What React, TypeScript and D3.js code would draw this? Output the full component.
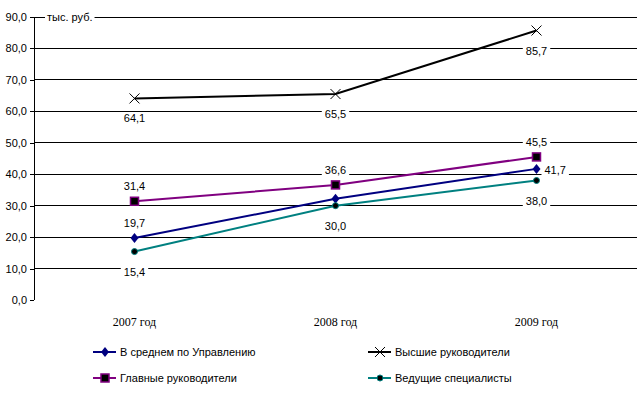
import React, { useEffect, useRef } from "react";
import * as d3 from "d3";

const years = ["2007 год", "2008 год", "2009 год"];
const avgValues = [19.7, 32.2, 41.7];
const topValues = [64.1, 65.5, 85.7];
const chiefValues = [31.4, 36.6, 45.5];
const leadValues = [15.4, 30.0, 38.0];
const yTicks = [0, 10, 20, 30, 40, 50, 60, 70, 80, 90];

const seriesList = [
  { name: "В среднем по Управлению", values: avgValues, color: "#000080", marker: "diamond", labels: [true, false, true], pos: ["above", "", "right"] },
  { name: "Высшие руководители", values: topValues, color: "#000000", marker: "cross", labels: [true, true, true], pos: ["below", "below", "below"] },
  { name: "Главные руководители", values: chiefValues, color: "#800080", marker: "square", labels: [true, true, true], pos: ["above", "above", "above"] },
  { name: "Ведущие специалисты", values: leadValues, color: "#008080", marker: "circle", labels: [true, true, true], pos: ["below", "below", "below"] },
];

const fmt = (v: number) => v.toFixed(1).replace(".", ",");
const FONT = "'Liberation Sans', Arial, sans-serif";
const FS = 11;

export default function App() {
  const ref = useRef<SVGSVGElement>(null);

  useEffect(() => {
    const svg = d3.select(ref.current);
    svg.selectAll("*").remove();

    const left = 34, right = 637, top = 17, bottom = 300;

    const x = d3.scaleBand().domain(years).range([left, right]);
    const y = d3.scaleLinear().domain([0, 90]).range([bottom, top]);
    const cx = (i: number) => (x(years[i]) as number) + x.bandwidth() / 2;

    // gridlines
    svg.append("g")
      .selectAll("line")
      .data(yTicks.slice(1))
      .join("line")
      .attr("x1", left).attr("x2", right)
      .attr("y1", d => y(d)).attr("y2", d => y(d))
      .attr("stroke", "#000").attr("stroke-width", 1)
      .attr("shape-rendering", "crispEdges");

    // y axis
    const yAxis = svg.append("g")
      .attr("transform", `translate(${left},0)`)
      .call(d3.axisLeft(y).tickValues(yTicks).tickFormat(d => fmt(d as number)).tickSize(4).tickPadding(3));
    yAxis.selectAll("line, path").attr("stroke", "#000").attr("shape-rendering", "crispEdges");
    yAxis.select(".domain").attr("d", `M0,${bottom}V${top}`);
    yAxis.selectAll("text").attr("font-family", FONT).attr("font-size", FS).attr("fill", "#000");

    // x axis labels
    svg.append("g")
      .selectAll("text")
      .data(years)
      .join("text")
      .attr("x", d => (x(d) as number) + x.bandwidth() / 2)
      .attr("y", 326)
      .attr("text-anchor", "middle")
      .attr("font-family", "'Liberation Serif', serif")
      .attr("font-size", 12)
      .text(d => d);

    // unit label
    const unitBg = svg.append("rect").attr("fill", "#fff");
    const unit = svg.append("text")
      .attr("x", 47).attr("y", 21)
      .attr("font-family", FONT).attr("font-size", FS)
      .text("тыс. руб.");
    const ub = (unit.node() as SVGTextElement).getBBox();
    unitBg.attr("x", ub.x - 2).attr("y", ub.y).attr("width", ub.width + 4).attr("height", ub.height);

    const line = d3.line<number>().x((_, i) => cx(i)).y(d => y(d));

    const drawMarker = (g: any, kind: string, color: string, px: number, py: number) => {
      if (kind === "diamond") {
        g.append("path").attr("d", `M${px},${py - 5}L${px + 4},${py}L${px},${py + 5}L${px - 4},${py}Z`).attr("fill", color);
      } else if (kind === "square") {
        g.append("rect").attr("x", px - 4).attr("y", py - 4).attr("width", 8).attr("height", 8)
          .attr("fill", "#000").attr("stroke", color).attr("stroke-width", 1.5);
      } else if (kind === "circle") {
        g.append("circle").attr("cx", px).attr("cy", py).attr("r", 3).attr("fill", "#000").attr("stroke", color).attr("stroke-width", 1);
      } else {
        g.append("path").attr("d", `M${px - 5},${py - 5}L${px + 5},${py + 5}M${px - 5},${py + 5}L${px + 5},${py - 5}`)
          .attr("stroke", color).attr("stroke-width", 1);
      }
    };

    const labelLayer = svg.append("g");
    const seriesLayer = svg.append("g");

    seriesList.forEach(s => {
      const g = seriesLayer.append("g");
      g.append("path").datum(s.values).attr("d", line)
        .attr("fill", "none").attr("stroke", s.color).attr("stroke-width", 2);
      s.values.forEach((v, i) => drawMarker(g, s.marker, s.color, cx(i), y(v)));

      s.values.forEach((v, i) => {
        if (!s.labels[i]) return;
        const p = s.pos[i];
        let lx = cx(i), ly = y(v), anchor = "middle";
        if (p === "above") ly -= 11;
        else if (p === "below") ly += 24;
        else { lx += 8; ly += 5; anchor = "start"; }
        const lg = labelLayer.append("g");
        const bg = lg.append("rect").attr("fill", "#fff");
        const t = lg.append("text")
          .attr("x", lx).attr("y", ly)
          .attr("text-anchor", anchor)
          .attr("font-family", FONT).attr("font-size", FS)
          .text(fmt(v));
        const b = (t.node() as SVGTextElement).getBBox();
        bg.attr("x", b.x - 3).attr("y", b.y).attr("width", b.width + 6).attr("height", b.height);
      });
    });
    labelLayer.raise();

    // legend
    const legendPos = [[93, 352], [368, 352], [93, 378], [368, 378]];
    seriesList.forEach((s, k) => {
      const [lx, ly] = legendPos[k];
      const g = svg.append("g");
      g.append("line").attr("x1", lx).attr("x2", lx + 23).attr("y1", ly).attr("y2", ly)
        .attr("stroke", s.color).attr("stroke-width", 2);
      drawMarker(g, s.marker, s.color, lx + 12, ly);
      g.append("text").attr("x", lx + 27).attr("y", ly + 4)
        .attr("font-family", FONT).attr("font-size", FS)
        .text(s.name);
    });
  }, []);

  return <svg ref={ref} width={643} height={397} style={{ display: "block", position: "absolute", left: 0, top: 0, background: "#fff" }} />;
}
